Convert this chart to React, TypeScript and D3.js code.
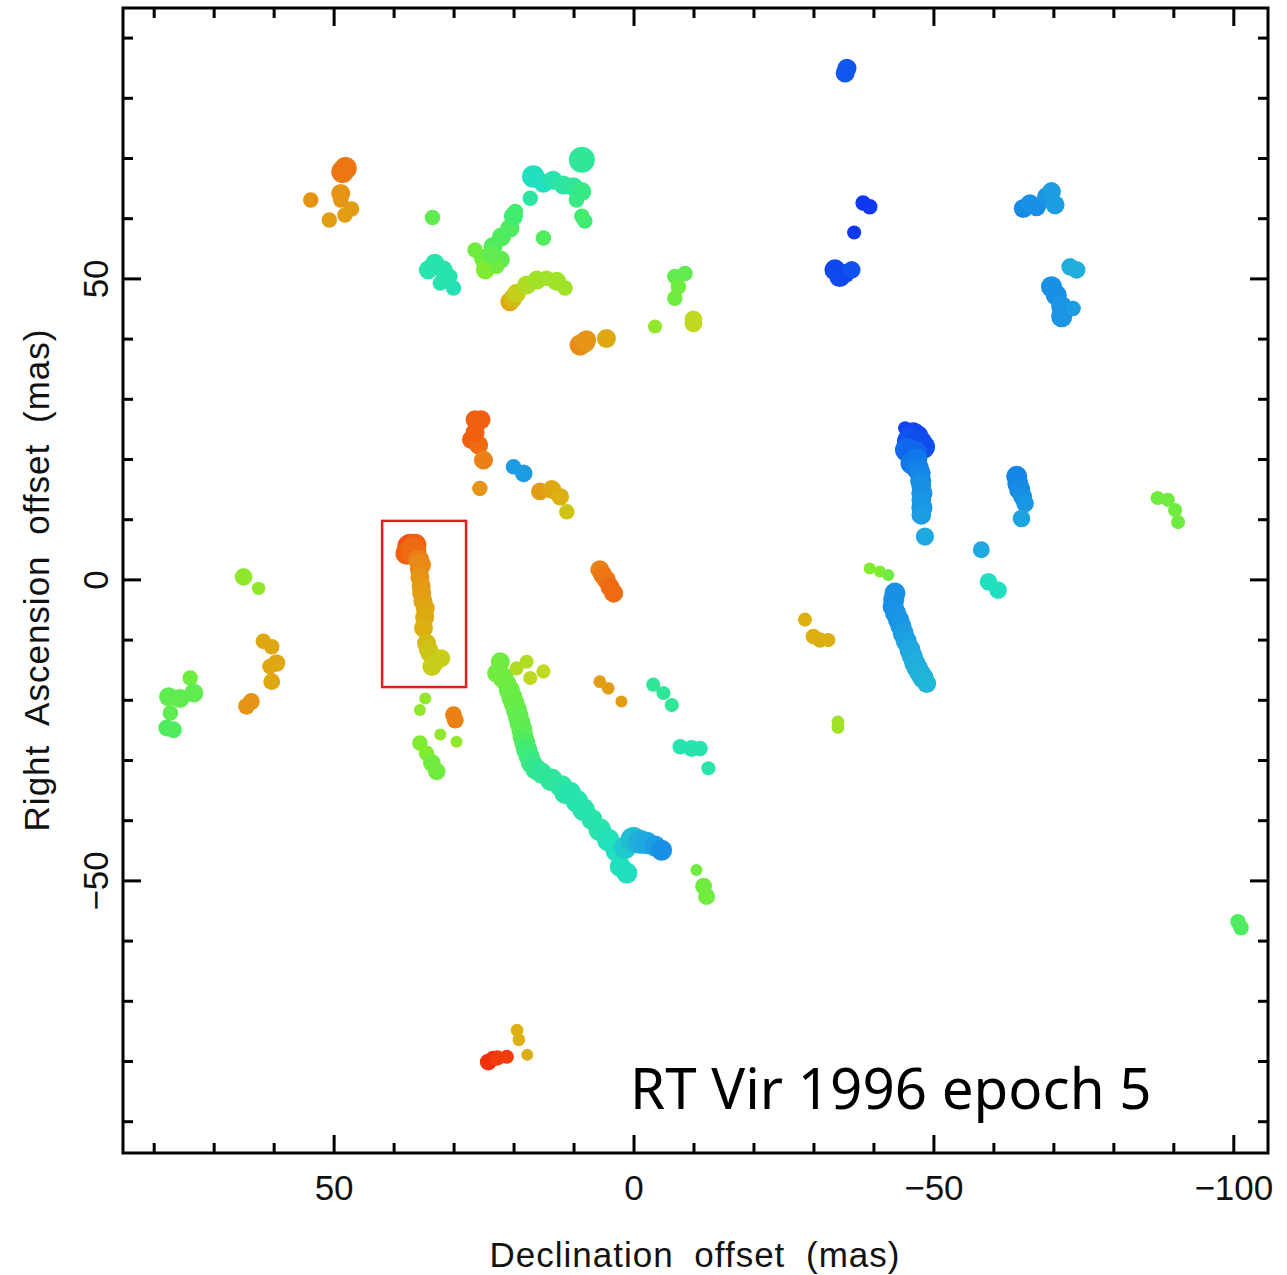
import React from "react";
import * as d3 from "d3";

// Each maser spot: [declination offset (mas), right ascension offset (mas), velocity (km/s), relative flux]
const northWestSpots: number[][] = [
  [48.1, 68.4, 23, 3], [48.6, 67.8, 23, 3], [53.9, 63.1, 21.5, 2], [48.9, 64.2, 21.5, 2.5], [48.9, 63.1, 21.5, 2],
  [47.1, 61.6, 21, 2], [48.2, 60.6, 21, 2], [50.8, 59.8, 21, 2],
];

const northCentralSpots: number[][] = [
  [33.6, 60.2, 15, 2],
  [34.3, 51.5, 12.5, 2.5], [33.2, 52.6, 12.5, 2.5], [31.8, 51.5, 12.5, 2.5], [30.7, 50.4, 12.5, 2],
  [32.3, 49.3, 12.5, 2], [30.1, 48.5, 12.3, 2],
  [26.5, 54.8, 15.5, 2], [25.1, 53.4, 15.5, 2.5], [24.8, 51.5, 16, 2.5], [23.5, 55.4, 14.5, 2.5],
  [22.1, 57.0, 14.5, 2.5], [20.7, 58.4, 14.5, 2.5], [20.1, 60.4, 14, 2.5], [19.8, 61.2, 14, 2],
  [22.3, 53.2, 15, 2.5], [22.9, 52.1, 15.5, 2], [23.8, 54.0, 15, 2.5],
  [20.7, 46.2, 20.5, 2.5], [20.2, 46.8, 19.5, 2.5], [19.6, 47.6, 18.5, 2.5], [17.9, 49.0, 17.5, 2.5],
  [16.2, 49.8, 17, 2.5], [14.6, 50.1, 17, 2], [12.9, 49.6, 17, 2.5], [11.5, 48.5, 17, 2],
  [16.8, 67.0, 12, 3], [15.1, 65.9, 12, 2.5], [13.5, 66.4, 12.5, 2.5], [11.8, 65.6, 12.8, 2.5],
  [10.1, 65.3, 13, 2.5], [8.7, 64.5, 13.5, 2.5], [17.3, 63.4, 12.8, 2], [9.6, 63.1, 13.5, 2],
  [8.7, 69.8, 13, 3.5], [8.7, 60.4, 14, 2], [8.2, 59.6, 14, 2], [15.1, 56.8, 14.5, 2],
  [-6.8, 50.4, 15, 2], [-8.5, 50.9, 15, 2], [-7.4, 48.7, 15.5, 2], [-6.8, 46.8, 15.5, 2],
  [-3.5, 42.1, 16.5, 1.8], [-9.9, 42.6, 18, 2.3], [-9.9, 43.3, 18, 2.3],
  [9.0, 39.0, 22, 2.8], [8.2, 39.5, 21.5, 2.8], [7.9, 39.9, 21.5, 2.5], [4.6, 40.1, 20.5, 2.5],
];

const northEastSpots: number[][] = [
  [-35.2, 84.2, 7, 2.5], [-35.5, 85.0, 7, 2.5],
  [-38.2, 62.6, 6, 2], [-39.3, 62.0, 6, 2],
  [-36.7, 57.7, 5.8, 1.8],
  [-33.5, 51.5, 6.5, 2.8], [-34.3, 50.4, 6.5, 2.8], [-35.2, 50.9, 6.5, 2.5], [-36.3, 51.5, 6.8, 2.3],
  [-64.9, 61.7, 8.8, 2.5], [-67.1, 62.0, 9, 2.5], [-68.8, 63.7, 9.3, 2.5], [-69.6, 64.5, 9.5, 2.5],
  [-70.2, 62.3, 9.5, 2.5], [-66.0, 62.5, 9, 2.5],
  [-72.7, 52.0, 10.2, 2.3], [-73.8, 51.5, 10.2, 2.3],
  [-69.6, 48.7, 9, 2.8], [-70.4, 47.3, 9, 2.8], [-71.3, 45.4, 9.2, 2.8], [-71.3, 43.7, 9.2, 2.8], [-73.2, 45.1, 9.5, 2],
];

const centralSpots: number[][] = [
  [26.5, 26.6, 24, 2.5], [25.5, 26.6, 24, 2.5], [27.1, 23.3, 24, 2.5], [25.9, 22.4, 23.5, 2.5],
  [26.5, 24.5, 24, 2.5], [25.1, 19.9, 22.5, 2.5], [25.7, 15.2, 21.5, 2],
  [20.1, 18.8, 9.5, 2], [18.4, 17.7, 9.5, 2.3],
  [15.7, 14.7, 21, 2.3], [13.7, 15.0, 20.5, 2.5], [12.3, 13.8, 20, 2.3], [11.2, 11.3, 19, 2],
  [37.3, 5.5, 24.5, 3.5], [37.9, 4.4, 24, 3], [36.5, 5.8, 24, 3], [36.8, 4.8, 23.5, 3.5], [35.9, 3.3, 22.5, 2.8],
  [35.6, 2.5, 22, 2.8], [35.8, 1.8, 22, 2.5], [35.7, 0.5, 21.5, 2.5], [35.5, -1.0, 21.2, 2.5], [35.4, -2.2, 21, 2.5],
  [35.2, -3.5, 20.8, 2.5], [34.8, -4.7, 20.5, 2.5], [34.9, -6.2, 20.3, 2.5], [35.1, -8.0, 20, 2.5],
  [34.6, -10.5, 19.5, 2.5], [34.3, -11.5, 19.2, 2.5], [34.0, -12.2, 19, 2.5],
  [33.3, -13.8, 18.7, 2.5], [33.7, -14.4, 18.5, 2.5], [32.1, -13.0, 18.5, 2.3],
  [5.7, 1.7, 22.5, 2.5], [5.2, 0.8, 23, 2.5], [4.6, 0.0, 23, 2.5], [4.0, -1.2, 23.5, 2.5], [3.4, -2.2, 23.5, 2.5],
];

const westSpots: number[][] = [
  [65.1, 0.5, 16.5, 2.3], [62.6, -1.4, 16.5, 1.7],
  [61.8, -10.2, 20.5, 2], [60.4, -11.1, 20.5, 2], [59.6, -13.8, 20.5, 2.3], [60.7, -14.4, 20.5, 2], [60.4, -16.9, 20.5, 2.2],
  [64.6, -21.0, 21.5, 2.2], [63.8, -20.2, 21.5, 2.2],
  [74.0, -16.3, 15.5, 2], [77.6, -19.4, 15, 2.5], [75.7, -19.7, 15, 2.5], [73.4, -18.8, 15, 2.5],
  [77.3, -22.1, 15, 2], [76.8, -24.9, 14.5, 2.2], [77.9, -24.6, 14.5, 2.2],
];

const southSpots: number[][] = [
  [34.8, -19.7, 16.5, 1.5], [35.7, -21.6, 16.5, 1.5], [30.1, -22.4, 22.5, 2.2], [29.8, -23.3, 22.5, 2.2],
  [32.3, -25.7, 16.5, 1.5], [29.6, -26.9, 16.5, 1.5], [35.7, -27.1, 16, 2], [34.6, -28.8, 16, 2],
  [33.7, -30.4, 15.5, 2.3], [32.9, -31.8, 15.5, 2.3],
  [22.3, -13.6, 15.5, 2.5], [22.9, -15.5, 15.5, 2.5], [21.8, -16.3, 15.5, 2.8], [21.2, -17.2, 15.5, 2.5],
  [20.8, -18.3, 15.4, 2.8], [20.4, -19.4, 15.3, 2.8], [20.0, -20.5, 15.3, 2.8], [19.6, -21.6, 15.2, 2.8],
  [19.3, -22.7, 15.1, 2.8], [19.0, -23.8, 15, 2.8], [18.7, -24.9, 15, 2.8], [18.5, -26.0, 14.8, 2.8],
  [18.2, -27.1, 14.5, 2.8], [17.9, -28.2, 14, 2.8], [17.5, -29.3, 13.8, 2.8], [17.1, -30.4, 13.5, 2.8],
  [16.4, -31.4, 13.2, 2.8], [15.4, -32.1, 13, 2.8], [13.8, -33.2, 12.9, 3], [12.1, -34.3, 12.8, 3],
  [11.5, -35.5, 12.7, 2.8], [10.7, -35.4, 12.5, 3], [9.5, -36.8, 12.5, 3], [8.4, -38.2, 12.5, 3],
  [7.0, -39.8, 12.5, 2.8], [5.7, -41.5, 12.5, 3], [4.3, -43.2, 12.2, 3], [2.9, -44.9, 12, 3],
  [2.3, -47.6, 12, 2.8], [1.2, -48.7, 12, 2.8], [1.5, -44.5, 11.2, 3], [0.1, -43.2, 10.8, 3.5],
  [-1.0, -43.5, 10.2, 3.2], [-2.1, -43.7, 10, 3], [-3.5, -44.2, 9.5, 2.8], [-4.6, -44.9, 9, 2.8],
  [19.6, -14.7, 17.5, 1.8], [17.9, -13.6, 17.5, 1.8], [17.3, -16.3, 18, 1.8], [15.1, -15.2, 18, 1.8],
  [5.7, -16.9, 21, 1.6], [4.3, -18.0, 21, 1.6], [2.1, -20.2, 21, 1.5],
  [-3.2, -17.4, 13, 1.8], [-4.9, -18.8, 13, 1.8], [-6.3, -20.8, 13, 1.8],
  [-7.7, -27.7, 12.5, 2], [-9.6, -28.0, 12.5, 2.2], [-11.0, -28.0, 12.5, 2], [-12.4, -31.3, 12.5, 1.8],
  [-10.4, -48.2, 15.5, 1.5], [-11.6, -50.9, 15.5, 2.2], [-12.1, -52.6, 15.5, 2.2],
  [24.3, -80.1, 26, 2.2], [23.5, -79.5, 26, 2], [22.8, -79.4, 25.5, 2], [21.2, -79.2, 25.5, 1.8],
  [19.5, -74.8, 20, 1.6], [19.2, -76.4, 20, 1.6], [17.8, -78.9, 20, 1.5],
];

const eastSpots: number[][] = [
  [-45.2, 25.2, 6.3, 1.8], [-46.5, 24.2, 6.5, 3.2], [-47.1, 23.8, 6.5, 3.2], [-48.2, 22.1, 6.8, 3.2],
  [-46.0, 23.0, 6.8, 3.5], [-47.5, 22.8, 6.6, 3.5], [-45.5, 21.6, 7.5, 3.2], [-46.8, 21.2, 7.4, 3.2],
  [-47.0, 20.0, 8, 3], [-46.3, 19.4, 8, 3], [-47.3, 18.5, 8.3, 3], [-47.7, 17.7, 8.5, 2.8],
  [-47.8, 16.5, 8.8, 2.8], [-47.9, 15.5, 9, 2.6], [-48.0, 14.4, 9, 2.8], [-47.9, 13.3, 9.2, 2.6],
  [-48.0, 12.0, 9.3, 2.8], [-47.9, 10.8, 9.5, 2.6], [-48.5, 7.2, 10, 2.4],
  [-57.9, 5.0, 10, 2.2],
  [-63.8, 17.2, 8.5, 2.8], [-64.0, 16.0, 8.6, 2.8], [-64.3, 15.0, 8.8, 2.8], [-64.8, 13.8, 9, 2.5],
  [-65.2, 12.7, 9.3, 2.3], [-64.6, 10.2, 9.8, 2.3],
  [-59.1, -0.3, 12, 2.3], [-60.7, -1.7, 12, 2.3],
  [-39.3, 1.9, 16, 1.5], [-41.0, 1.4, 16, 1.5], [-42.4, 0.8, 15.5, 1.5],
  [-43.5, -2.2, 9, 2.8], [-43.3, -3.3, 9, 2.8], [-43.2, -4.4, 9, 2.8], [-43.6, -5.5, 9.1, 2.8],
  [-44.1, -6.6, 9.2, 2.8], [-44.5, -7.7, 9.3, 2.8], [-44.9, -8.9, 9.5, 2.8], [-45.4, -10.2, 9.7, 2.8],
  [-46.0, -11.6, 10, 2.8], [-46.4, -12.7, 10.1, 2.8], [-46.8, -13.8, 10.2, 2.8], [-47.2, -14.6, 10.2, 2.8],
  [-47.7, -15.5, 10.3, 2.8], [-48.2, -16.3, 10.4, 2.8], [-48.8, -17.2, 10.5, 2.5],
  [-28.5, -6.6, 20, 1.8], [-29.9, -9.4, 20, 2], [-31.0, -10.0, 20, 2], [-32.4, -10.0, 20, 1.8],
  [-34.0, -23.6, 17, 1.6], [-34.0, -24.5, 17, 1.6],
  [-87.3, 13.6, 15.5, 1.8], [-89.0, 13.3, 15.5, 1.8], [-90.2, 11.6, 15.5, 1.8], [-90.7, 9.6, 15.5, 1.8],
  [-100.7, -56.8, 14.5, 2], [-101.2, -57.8, 14.5, 2],
];

const xDomain = [85.2, -105.7];
const yDomain = [95.0, -95.2];
const xMajorTicks = [50, 0, -50, -100];
const yMajorTicks = [50, 0, -50];
const xMinorTicks = d3.range(80, -106, -10);
const yMinorTicks = d3.range(90, -96, -10);
const xTickLabels = ["50", "0", "\u221250", "\u2212100"];
const yTickLabels = ["50", "0", "\u221250"];
const highlightBoxDec = [42, 28];
const highlightBoxRa = [9.8, -17.8];
const titleText = "RT Vir 1996 epoch 5";
const xAxisTitle = "Declination offset (mas)";
const yAxisTitle = "Right Ascension offset (mas)";

const W = 1287;
const H = 1275;
const left = 123, right = 1268, top = 8, bottom = 1153;

export default function App() {
  const x = d3.scaleLinear().domain(xDomain).range([left, right]);
  const y = d3.scaleLinear().domain(yDomain).range([top, bottom]);
  const color = d3
    .scaleLinear<string>()
    .domain([6, 8, 10, 12, 14, 16, 18, 20, 22, 24, 26])
    .range(["#1038f0", "#1078ea", "#20a8e0", "#20e0c0", "#40ec70", "#80ec30", "#c0d820", "#dcb010", "#e88a18", "#f06010", "#f0300a"])
    .clamp(true);
  const radius = d3.scaleLinear().domain([1.5, 3.5]).range([6, 13]);

  const all = [
    ...northWestSpots, ...northCentralSpots, ...northEastSpots, ...centralSpots,
    ...westSpots, ...southSpots, ...eastSpots,
  ];

  const tickFont = "'Liberation Sans', Arial, sans-serif";

  return (
    <div style={{ position: "absolute", left: 0, top: 0 }}>
      <svg width={W} height={H} style={{ display: "block", background: "#fff" }}>
        <g>
          {all.map((d, i) => (
            <circle key={i} cx={x(d[0])} cy={y(d[1])} r={radius(d[3])} fill={color(d[2])} />
          ))}
        </g>
        <rect
          x={x(highlightBoxDec[0])}
          y={y(highlightBoxRa[0])}
          width={x(highlightBoxDec[1]) - x(highlightBoxDec[0])}
          height={y(highlightBoxRa[1]) - y(highlightBoxRa[0])}
          fill="none"
          stroke="#e41e1e"
          strokeWidth={2.5}
        />
        <rect x={left} y={top} width={right - left} height={bottom - top} fill="none" stroke="#000" strokeWidth={3} />
        {xMinorTicks.map((t) => {
          const major = xMajorTicks.includes(t);
          const len = major ? 18 : 10;
          return (
            <g key={"xt" + t}>
              <line x1={x(t)} x2={x(t)} y1={bottom} y2={bottom - len} stroke="#000" strokeWidth={3} />
              <line x1={x(t)} x2={x(t)} y1={top} y2={top + len} stroke="#000" strokeWidth={3} />
            </g>
          );
        })}
        {yMinorTicks.map((t) => {
          const major = yMajorTicks.includes(t);
          const len = major ? 18 : 10;
          return (
            <g key={"yt" + t}>
              <line x1={left} x2={left + len} y1={y(t)} y2={y(t)} stroke="#000" strokeWidth={3} />
              <line x1={right} x2={right - len} y1={y(t)} y2={y(t)} stroke="#000" strokeWidth={3} />
            </g>
          );
        })}
        {xMajorTicks.map((t, i) => (
          <text key={"xl" + t} x={x(t)} y={1200} textAnchor="middle" fontFamily={tickFont} fontSize={35} fill="#111">
            {xTickLabels[i]}
          </text>
        ))}
        {yMajorTicks.map((t, i) => (
          <text
            key={"yl" + t}
            transform={`translate(108,${y(t)}) rotate(-90)`}
            textAnchor="middle"
            fontFamily={tickFont}
            fontSize={35}
            fill="#111"
          >
            {yTickLabels[i]}
          </text>
        ))}
        <text
          x={695}
          y={1267}
          textAnchor="middle"
          fontFamily={tickFont}
          fontSize={35}
          letterSpacing={1}
          wordSpacing={10}
          fill="#111"
        >
          {xAxisTitle}
        </text>
        <text
          transform={`translate(49,580) rotate(-90)`}
          textAnchor="middle"
          fontFamily={tickFont}
          fontSize={35}
          letterSpacing={1}
          wordSpacing={10}
          fill="#111"
        >
          {yAxisTitle}
        </text>
        <text x={630} y={1109} fontFamily="'Noto Sans', 'Open Sans', sans-serif" fontSize={56.5} fill="#000">
          {titleText}
        </text>
      </svg>
    </div>
  );
}
